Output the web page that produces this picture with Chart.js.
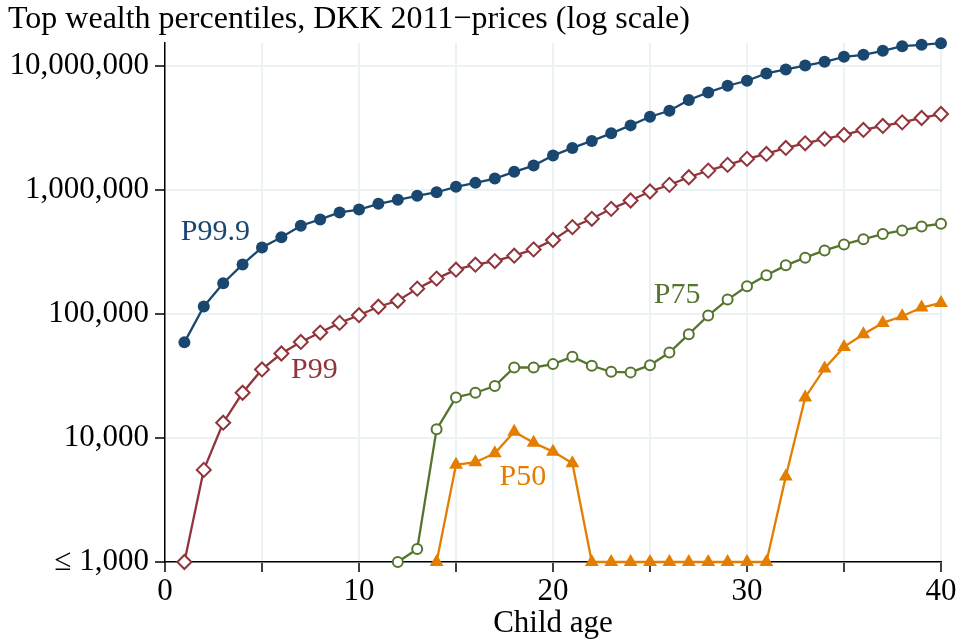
<!DOCTYPE html>
<html>
<head>
<meta charset="utf-8">
<script src="https://cdn.jsdelivr.net/npm/chart.js@4/dist/chart.umd.min.js"></script>
<style>
  html, body { margin: 0; padding: 0; background: #fff; }
  #wrap { width: 959px; height: 642px; }
</style>
</head>
<body>
<div id="wrap"><canvas id="myChart"></canvas></div>
<script>
'use strict';

// *** Data ***
const ages = [1, 2, 3, 4, 5, 6, 7, 8, 9, 10, 11, 12, 13, 14, 15, 16, 17, 18, 19, 20,
	21, 22, 23, 24, 25, 26, 27, 28, 29, 30, 31, 32, 33, 34, 35, 36, 37, 38, 39, 40];

const p999 = [59000, 115000, 177000, 251000, 344000, 416000, 514000, 578000, 658000, 695000,
	773000, 832000, 897000, 958000, 1059000, 1140000, 1236000, 1400000, 1571000, 1892000,
	2181000, 2483000, 2858000, 3315000, 3894000, 4350000, 5309000, 6110000, 6918000, 7590000,
	8690000, 9360000, 10070000, 10790000, 11830000, 12280000, 13230000, 14430000, 14790000, 15250000];

const p99 = [1000, 5530, 13280, 23150, 35700, 48000, 59500, 70800, 84700, 97700,
	114300, 127700, 160000, 192700, 227500, 249600, 266900, 295000, 331600, 394500,
	501000, 585000, 704000, 822000, 971000, 1099000, 1265000, 1432000, 1592000, 1779000,
	1951000, 2181000, 2376000, 2578000, 2775000, 3046000, 3280000, 3506000, 3802000, 4094000];

const p75 = [null, null, null, null, null, null, null, null, null, null,
	null, 1000, 1272, 11750, 21250, 23150, 26200, 37000, 37000, 39400,
	45100, 38200, 34150, 33800, 38650, 48900, 68700, 97100, 130600, 167000,
	204800, 246500, 284300, 325500, 363700, 401000, 440300, 471400, 507600, 533600];

const p50 = [null, null, null, null, null, null, null, null, null, null,
	null, null, null, 1000, 6070, 6375, 7530, 11240, 9165, 7760,
	6260, 1000, 1000, 1000, 1000, 1000, 1000, 1000, 1000, 1000,
	1000, 4885, 21250, 36370, 54260, 68700, 84700, 95800, 112600, 122600];

const yTickValues = [1000, 10000, 100000, 1000000, 10000000];
const yTickLabels = ['≤ 1,000', '10,000', '100,000', '1,000,000', '10,000,000'];

// in-plot series labels: text, age, value
const seriesLabels = ['P99.9', 'P99', 'P75', 'P50'];
const seriesLabelAge = [2.6, 7.7, 26.4, 18.45];
const seriesLabelValue = [454000, 35200, 141000, 4850];

const NAVY = 'rgb(26, 71, 111)';
const MAROON = 'rgb(144, 53, 59)';
const GREEN = 'rgb(85, 117, 47)';
const ORANGE = 'rgb(227, 126, 0)';
const GRID = 'rgb(234, 242, 243)';
const SERIF = '"Liberation Serif", "Times New Roman", serif';

function toPoints(ary) {
	return ages.map((a, i) => ({ x: a, y: ary[i] }));
}

function prepareDataSets() {
	let aryDataSets = [];
	aryDataSets.push({
		label: 'P99.9',
		data: toPoints(p999),
		borderColor: NAVY,
		backgroundColor: NAVY,
		pointStyle: 'circle',
		pointRadius: 6,
		pointBorderWidth: 0,
	});
	aryDataSets.push({
		label: 'P99',
		data: toPoints(p99),
		borderColor: MAROON,
		backgroundColor: '#fff',
		pointBorderColor: MAROON,
		pointStyle: 'rectRot',
		pointRadius: 7,
		pointBorderWidth: 2,
	});
	aryDataSets.push({
		label: 'P75',
		data: toPoints(p75),
		borderColor: GREEN,
		backgroundColor: '#fff',
		pointBorderColor: GREEN,
		pointStyle: 'circle',
		pointRadius: 5,
		pointBorderWidth: 2,
	});
	aryDataSets.push({
		label: 'P50',
		data: toPoints(p50),
		borderColor: ORANGE,
		backgroundColor: ORANGE,
		pointStyle: 'triangle',
		pointRadius: 8,
		pointBorderWidth: 0,
	});
	aryDataSets.forEach((ds) => {
		ds.borderWidth = 2.3;
		ds.tension = 0;
		ds.clip = false;
		ds.spanGaps = false;
		ds.pointHoverRadius = ds.pointRadius;
	});
	return aryDataSets;
}

// draws the P-labels next to their lines, placed through the scales
const seriesLabelPlugin = {
	id: 'seriesLabels',
	afterDatasetsDraw(chart) {
		const ctx = chart.ctx;
		const xs = chart.scales.x;
		const ys = chart.scales.y;
		const colors = [NAVY, MAROON, GREEN, ORANGE];
		ctx.save();
		ctx.font = '30px ' + SERIF;
		ctx.textAlign = 'center';
		ctx.textBaseline = 'middle';
		seriesLabels.forEach((txt, i) => {
			ctx.fillStyle = colors[i];
			ctx.fillText(txt, xs.getPixelForValue(seriesLabelAge[i]), ys.getPixelForValue(seriesLabelValue[i]));
		});
		ctx.restore();
	},
};

function prepareOptions() {
	return {
		responsive: false,
		animation: false,
		layout: { padding: { left: 8, right: 18, top: 0, bottom: 0 } },
		plugins: {
			legend: { display: false },
			tooltip: { enabled: false },
			title: {
				display: true,
				text: 'Top wealth percentiles, DKK 2011\u2212prices (log scale)',
				align: 'start',
				color: '#000',
				font: { family: SERIF, size: 32, weight: 'normal', lineHeight: 1.2 },
				padding: { top: 0, bottom: 4.6 },
			},
		},
		scales: {
			x: {
				type: 'linear',
				min: 0,
				max: 40,
				afterBuildTicks: (scale) => {
					scale.ticks = [0, 5, 10, 15, 20, 25, 30, 35, 40].map((v) => ({ value: v }));
				},
				afterFit: (scale) => { scale.height = 80; },
				ticks: {
					color: '#000',
					font: { family: SERIF, size: 31 },
					padding: 1,
					maxRotation: 0,
					callback: (v) => (v % 10 === 0 ? String(v) : ''),
				},
				grid: {
					color: GRID,
					lineWidth: 2,
					tickColor: '#000',
					tickLength: 10,
					tickWidth: 1.5,
				},
				border: { color: '#000', width: 1.5 },
				title: {
					display: true,
					text: 'Child age',
					color: '#000',
					font: { family: SERIF, size: 31 },
					padding: { top: 0, bottom: 0 },
				},
			},
			y: {
				type: 'logarithmic',
				min: 1000,
				max: 15300000,
				afterBuildTicks: (scale) => {
					scale.ticks = yTickValues.map((v) => ({ value: v }));
				},
				afterFit: (scale) => { scale.width = 157; },
				ticks: {
					color: '#000',
					font: { family: SERIF, size: 31 },
					padding: 6,
					callback: (v) => {
						const k = yTickValues.indexOf(v);
						return k >= 0 ? yTickLabels[k] : '';
					},
				},
				grid: {
					color: GRID,
					lineWidth: 2,
					tickColor: '#000',
					tickLength: 10,
					tickWidth: 1.5,
				},
				border: { color: '#000', width: 1.5 },
			},
		},
	};
}

function chartIt() {
	const canvas = document.getElementById('myChart');
	canvas.width = 959;
	canvas.height = 642;
	const config = {
		type: 'line',
		data: { datasets: prepareDataSets() },
		options: prepareOptions(),
		plugins: [seriesLabelPlugin],
	};
	return new Chart(canvas, config);
}

// *** Entry Point ***
chartIt();
</script>
</body>
</html>
